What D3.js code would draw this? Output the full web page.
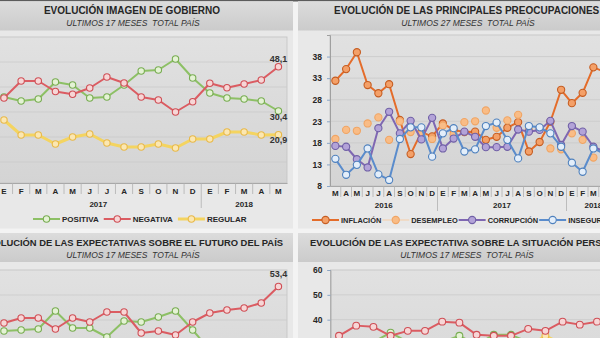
<!DOCTYPE html>
<html><head><meta charset="utf-8">
<script src="https://cdn.jsdelivr.net/npm/d3@7"></script>
<style>
html,body{margin:0;padding:0;background:#efefef;}
svg{display:block;font-family:"Liberation Sans",Arial,sans-serif;}
</style></head><body>
<svg id="c" width="600" height="338"></svg>
<script>
// ---- categories / tick labels ----
const months17 = ["E","F","M","A","M","J","J","A","S","O","N","D","E","F","M","A","M"];
const years17 = ["2017","2018"];
const yearStart17 = [0, 12];

const months27 = ["M","A","M","J","J","A","S","O","N","D","E","F","M","A","M","J","J","A","S","O","N","D","E","F","M","A","M"];
const years27 = ["2016","2017","2018"];
const yearStart27 = [0, 10, 22];

const ticksPreoc = [8, 13, 18, 23, 28, 33, 38];
const ticksPersonal = [40, 50, 60];

// ---- Evolución imagen de gobierno (%) ----
const imgPositiva = [36.0,34.4,35.2,42.0,40.8,35.6,36.0,40.8,46.4,46.8,51.2,43.6,37.6,35.6,35.2,34.4,30.4];
const imgNegativa = [35.6,42.4,42.4,38.2,37.1,39.6,44.0,41.6,36.0,34.8,30.0,34.1,41.5,39.7,41.2,42.8,48.1];
const imgRegular  = [26.8,20.8,20.8,17.2,20.0,21.2,17.6,16.0,16.0,17.2,15.6,19.2,19.2,22.0,22.0,20.8,20.9];

// ---- Principales preocupaciones (%) ----
const preInflacion   = [32.4,35.1,39.0,31.4,29.5,31.6,23.3,15.4,20.5,19.5,22.5,21.0,20.5,20.6,18.7,19.4,21.5,22.8,16.0,18.2,22.9,30.3,27.2,29.6,35.5,34.5,33.0];
const preDesempleo   = [18.9,21.0,20.8,22.5,23.9,18.7,23.0,20.5,20.0,18.9,22.0,20.0,22.8,23.0,25.5,21.5,23.2,24.5,21.0,21.5,16.7,16.5,20.2,18.7,14.6,15.0,16.0];
const preCorrupcion  = [17.3,17.1,14.2,12.3,21.4,25.2,20.2,23.1,18.8,23.8,16.7,19.0,20.6,19.4,17.0,17.0,17.1,21.1,20.6,21.0,23.1,17.5,21.9,20.6,17.1,16.0,17.0];
const preInseguridad = [14.3,10.6,12.9,16.7,10.7,9.4,18.9,21.6,21.6,14.8,20.2,21.4,16.0,16.5,21.9,22.7,18.7,14.4,21.9,21.6,20.2,17.1,13.4,11.3,16.7,15.5,16.0];

// ---- Expectativas sobre el futuro del país (%) ----
const futPositiva = [35.6,36.0,36.4,43.6,36.8,36.8,33.2,39.6,39.2,41.2,43.6,36.0,28.0,26.5,27.0,25.0,24.0];
const futNegativa = [38.8,40.8,40.8,36.4,40.8,39.2,43.2,43.2,34.8,35.6,34.0,39.2,42.8,44.0,44.8,46.8,53.4];
const futRegular  = [18.0,17.5,17.0,16.5,17.5,18.0,17.0,16.0,18.0,17.5,16.5,18.0,19.0,19.5,19.0,18.5,17.0];

// ---- Expectativa sobre la situación personal (%) ----
const perPositiva = [29.0,30.0,31.0,34.8,31.0,30.0,31.0,33.5,30.0,33.9,33.9,31.0,30.0,30.5,30.0,29.5,29.0];
const perNegativa = [33.5,37.6,37.1,33.5,35.5,35.5,39.2,38.8,33.9,33.5,33.5,36.3,35.5,39.2,38.0,39.2,38.5];
const perRegular  = [25.0,26.0,27.0,26.0,25.0,27.0,28.0,27.0,26.0,27.0,28.0,29.0,33.5,30.0,29.0,28.0,27.0];

// ---- styles ----
const GREEN  = {line:"#8dc065", stroke:"#78ad52", fill:"#e4f2d4", w:2};
const RED    = {line:"#db5c62", stroke:"#cf4f56", fill:"#f7d6d6", w:2};
const YELLOW = {line:"#f4d460", stroke:"#e8b94a", fill:"#fbe7b2", w:3};
const INFL = {line:"#e46c2a", stroke:"#c55d22", fill:"#f4a068", w:2};
const DESE = {line:null,      stroke:"#f0a564", fill:"#f9bc86", w:2, legendLine:"#f6cda6"};
const CORR = {line:"#7f67b2", stroke:"#7060a6", fill:"#b3a3d8", w:2};
const INSE = {line:"#5a8ccc", stroke:"#4f81bd", fill:"#e3eefa", w:2};

const TXT = "#262626";
const svg = d3.select("#c");
const defs = svg.append("defs");

function vGrad(id, a, b) {
  const gr = defs.append("linearGradient").attr("id", id)
    .attr("x1",0).attr("y1",0).attr("x2",0).attr("y2",1);
  gr.append("stop").attr("offset","0%").attr("stop-color",a);
  gr.append("stop").attr("offset","100%").attr("stop-color",b);
}
vGrad("band", "#dcdcdc", "#cbcbcb");
vGrad("plot", "#e1e1e1", "#d4d4d4");

svg.append("rect").attr("width",600).attr("height",338).attr("fill","#f3f3f3");
svg.append("rect").attr("width",600).attr("height",1.5).attr("fill","#5c5c5c");

const fmt = v => d3.format(".1f")(v).replace(".", ",");

function panel(cfg) {
  const g = svg.append("g");
  // panel body + heading band
  g.append("rect").attr("x",cfg.px).attr("y",cfg.py).attr("width",cfg.pw).attr("height",cfg.ph).attr("fill","#e8e8e8");
  g.append("rect").attr("x",cfg.px).attr("y",cfg.py).attr("width",cfg.pw).attr("height",29).attr("fill","url(#band)");
  g.append("text").attr("x",cfg.titleX).attr("y",cfg.py+12.5).attr("text-anchor",cfg.titleAnchor)
    .attr("font-size",cfg.titleSize).attr("font-weight","bold").attr("fill",TXT).text(cfg.title);
  g.append("text").attr("x",cfg.subX).attr("y",cfg.py+24.5).attr("text-anchor","middle")
    .attr("font-size",8.5).attr("font-style","italic").attr("fill","#333").attr("xml:space","preserve").text(cfg.subtitle);

  const x = cfg.x, y = cfg.y;
  const [x0, x1] = x.range();
  const cx = i => x(i) + x.bandwidth() / 2;

  g.append("rect").attr("x",x0).attr("y",cfg.plotTop).attr("width",x1-x0).attr("height",cfg.plotBottom-cfg.plotTop)
    .attr("fill","url(#plot)").attr("stroke","#c2c2c2").attr("stroke-width",0.8);

  g.append("g").selectAll("line").data(cfg.grid).join("line")
    .attr("x1",x0).attr("x2",x1).attr("y1",d=>y(d)).attr("y2",d=>y(d))
    .attr("stroke","#cacaca").attr("stroke-width",0.8);

  if (cfg.yTicks) {
    const ax = g.append("g").attr("transform",`translate(${x0},0)`)
      .call(d3.axisLeft(y).tickValues(cfg.yTicks).tickSize(3).tickPadding(5));
    ax.select(".domain").attr("stroke","#a0a0a0");
    ax.selectAll(".tick line").attr("stroke","#8aa6c8");
    ax.selectAll("text").attr("font-size",8.5).attr("font-weight","bold").attr("fill",TXT)
      .attr("font-family","'Liberation Sans',Arial,sans-serif");
  }

  if (cfg.months) {
    const ax = g.append("g").attr("transform",`translate(0,${cfg.plotBottom})`)
      .call(d3.axisBottom(x).tickSize(0).tickPadding(cfg.monthPad).tickFormat(i => cfg.months[i]));
    ax.select(".domain").attr("stroke","#a8a8a8");
    ax.selectAll("text").attr("font-size",8).attr("font-weight","bold").attr("fill",TXT)
      .attr("font-family","'Liberation Sans',Arial,sans-serif");
    const bw = x.bandwidth();
    g.append("g").selectAll("line").data(d3.range(1, cfg.months.length)).join("line")
      .attr("x1",k=>x0+k*bw).attr("x2",k=>x0+k*bw)
      .attr("y1",cfg.plotBottom).attr("y2",k=>cfg.plotBottom + (cfg.yearStart.includes(k) ? 25 : 11))
      .attr("stroke","#b0b0b0").attr("stroke-width",0.8);
    cfg.years.forEach((yr, k) => {
      const a = cfg.yearStart[k];
      const b = k + 1 < cfg.years.length ? cfg.yearStart[k+1] : cfg.months.length;
      g.append("text").attr("x",(x(a) + x(b-1) + bw) / 2).attr("y",cfg.plotBottom + cfg.yearDy)
        .attr("text-anchor","middle").attr("font-size",8).attr("font-weight","bold").attr("fill",TXT).text(yr);
    });
  }

  const clipId = "clip" + cfg.id;
  defs.append("clipPath").attr("id",clipId).append("rect")
    .attr("x",x0-6).attr("y",cfg.plotTop-6).attr("width",x1-x0+12).attr("height",cfg.plotBottom-cfg.plotTop+12);
  const sg = g.append("g").attr("clip-path",`url(#${clipId})`);
  cfg.series.forEach(s => {
    if (s.style.line) {
      sg.append("path").attr("d", d3.line().x((d,i)=>cx(i)).y(d=>y(d))(s.values))
        .attr("fill","none").attr("stroke",s.style.line).attr("stroke-width",s.style.w)
        .attr("stroke-linejoin","round");
    }
    sg.append("g").selectAll("circle").data(s.values).join("circle")
      .attr("cx",(d,i)=>cx(i)).attr("cy",d=>y(d)).attr("r",cfg.r)
      .attr("fill",s.style.fill).attr("stroke",s.style.stroke).attr("stroke-width",1.1);
    if (s.endLabel !== undefined) {
      const n = s.values.length - 1;
      g.append("text").attr("x",cx(n)).attr("y",y(s.values[n]) + s.endLabel)
        .attr("text-anchor","middle").attr("font-size",9).attr("font-weight","bold").attr("fill","#333")
        .text(fmt(s.values[n]));
    }
  });

  if (cfg.legendX !== undefined) {
    let lx = cfg.legendX;
    const ly = cfg.legendY;
    cfg.series.forEach(s => {
      const st = s.style;
      g.append("line").attr("x1",lx).attr("x2",lx+27).attr("y1",ly).attr("y2",ly)
        .attr("stroke", st.line || st.legendLine).attr("stroke-width", st.line ? st.w : 1);
      g.append("circle").attr("cx",lx+13.5).attr("cy",ly).attr("r",cfg.r)
        .attr("fill",st.fill).attr("stroke",st.stroke).attr("stroke-width",1.1);
      const t = g.append("text").attr("x",lx+29).attr("y",ly+3).attr("font-size",cfg.legendSize)
        .attr("font-weight","bold").attr("fill",TXT).text(s.name);
      lx += 29 + t.node().getComputedTextLength() + cfg.legendGap;
    });
  }
}

// Evolución imagen de gobierno
panel({
  id:"tl", px:-10, py:1.5, pw:303, ph:227,
  title:"EVOLUCIÓN IMAGEN DE GOBIERNO", titleX:132, titleAnchor:"middle", titleSize:10,
  subtitle:"ULTIMOS 17 MESES  TOTAL PAÍS", subX:133,
  x: d3.scaleBand().domain(d3.range(17)).range([-4.6, 287]),
  y: d3.scaleLinear().domain([0, 60]).range([187, 37]),
  plotTop:37, plotBottom:183, grid:[10,20,30,40,50], r:3.2,
  months:months17, years:years17, yearStart:yearStart17, monthPad:5, yearDy:24,
  series:[
    {name:"POSITIVA", values:imgPositiva, style:GREEN, endLabel:9},
    {name:"NEGATIVA", values:imgNegativa, style:RED, endLabel:-5},
    {name:"REGULAR",  values:imgRegular,  style:YELLOW, endLabel:8}
  ],
  legendX:33, legendY:219, legendGap:5, legendSize:8
});

// Principales preocupaciones
panel({
  id:"tr", px:298, py:1.5, pw:320, ph:227,
  title:"EVOLUCIÓN DE LAS PRINCIPALES PREOCUPACIONES", titleX:334, titleAnchor:"start", titleSize:10,
  subtitle:"ULTIMOS 27 MESES  TOTAL PAÍS", subX:468,
  x: d3.scaleBand().domain(d3.range(27)).range([330, 620.25]),
  y: d3.scaleLinear().domain([8, 43]).range([186, 35]),
  plotTop:35, plotBottom:186, grid:ticksPreoc, yTicks:ticksPreoc, r:3.6,
  months:months27, years:years27, yearStart:yearStart27, monthPad:4.3, yearDy:21.5,
  series:[
    {name:"INFLACIÓN",   values:preInflacion,   style:INFL},
    {name:"DESEMPLEO",   values:preDesempleo,   style:DESE},
    {name:"CORRUPCIÓN",  values:preCorrupcion,  style:CORR},
    {name:"INSEGURIDAD", values:preInseguridad, style:INSE}
  ],
  legendX:312, legendY:220, legendGap:1, legendSize:7.4
});

// Expectativas sobre el futuro del país
panel({
  id:"bl", px:-10, py:233, pw:303, ph:120,
  title:"EVOLUCIÓN DE LAS EXPECTATIVAS SOBRE EL FUTURO DEL PAÍS", titleX:283, titleAnchor:"end", titleSize:9.4,
  subtitle:"ULTIMOS 17 MESES  TOTAL PAÍS", subX:133,
  x: d3.scaleBand().domain(d3.range(17)).range([-4.6, 287]),
  y: d3.scaleLinear().domain([0, 60]).range([420, 270]),
  plotTop:270, plotBottom:416, grid:[10,20,30,40,50], r:3.2,
  series:[
    {name:"POSITIVA", values:futPositiva, style:GREEN},
    {name:"NEGATIVA", values:futNegativa, style:RED, endLabel:-10},
    {name:"REGULAR",  values:futRegular,  style:YELLOW}
  ]
});

// Expectativa sobre la situación personal
panel({
  id:"br", px:298, py:233, pw:320, ph:120,
  title:"EVOLUCIÓN DE LAS EXPECTATIVA SOBRE LA SITUACIÓN PERSONAL", titleX:310, titleAnchor:"start", titleSize:9.4,
  subtitle:"ULTIMOS 17 MESES  TOTAL PAÍS", subX:467,
  x: d3.scaleBand().domain(d3.range(17)).range([330.4, 622.8]),
  y: d3.scaleLinear().domain([0, 60]).range([419, 270]),
  plotTop:270, plotBottom:419, grid:[10,20,30,40,50], yTicks:ticksPersonal, r:3.4,
  series:[
    {name:"POSITIVA", values:perPositiva, style:GREEN},
    {name:"REGULAR",  values:perRegular,  style:YELLOW},
    {name:"NEGATIVA", values:perNegativa, style:RED}
  ]
});
</script>
</body></html>
